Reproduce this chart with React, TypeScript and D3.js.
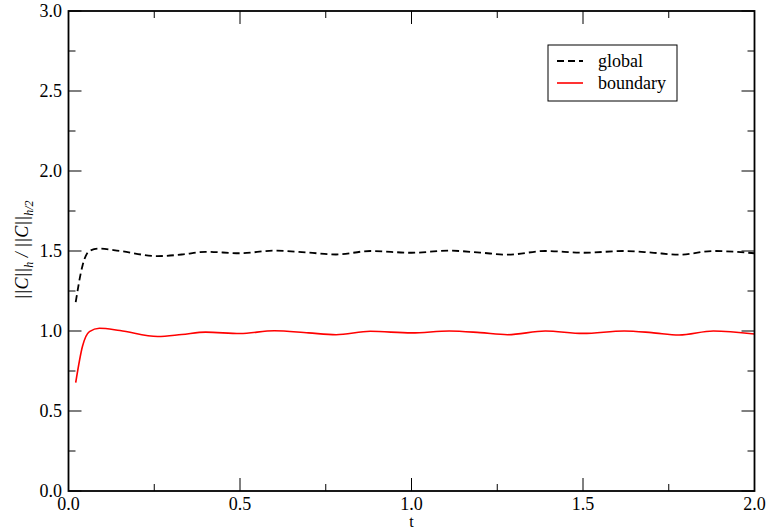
import React from "react";
import * as d3 from "d3";

const tValues = [0.021, 0.041, 0.061, 0.09, 0.15, 0.26, 0.33, 0.40, 0.50, 0.60, 0.70, 0.78, 0.88, 1.0, 1.11, 1.20, 1.28, 1.39, 1.50, 1.62, 1.70, 1.78, 1.88, 2.0];
const globalValues = [1.18, 1.41, 1.50, 1.515, 1.50, 1.468, 1.478, 1.495, 1.486, 1.502, 1.49, 1.478, 1.50, 1.489, 1.502, 1.49, 1.477, 1.50, 1.489, 1.50, 1.49, 1.477, 1.50, 1.486];
const boundaryValues = [0.677, 0.906, 0.996, 1.017, 1.003, 0.966, 0.978, 0.993, 0.984, 1.002, 0.988, 0.977, 0.998, 0.988, 1.0, 0.99, 0.977, 1.0, 0.985, 1.0, 0.99, 0.975, 1.0, 0.981];
const xMajorTicks = [0, 0.5, 1.0, 1.5, 2.0];
const xMinorTicks = [0.25, 0.75, 1.25, 1.75];
const yMajorTicks = [0, 0.5, 1.0, 1.5, 2.0, 2.5, 3.0];
const yMinorTicks = [0.25, 0.75, 1.25, 1.75, 2.25, 2.75];
const seriesNames = ["global", "boundary"];

const W = 767, H = 531;
const L = 68.5, R = 754.5, T = 11, B = 491;
const FONT = "'Liberation Serif', 'Times New Roman', serif";

export default function App() {
  const x = d3.scaleLinear().domain([0, 2]).range([L, R]);
  const y = d3.scaleLinear().domain([0, 3]).range([B, T]);
  const line = d3.line<number>().x((_, i) => x(tValues[i])).y((v) => y(v)).curve(d3.curveMonotoneX);
  const fmt = d3.format(".1f");
  const major = 13, minor = 7;

  return (
    <svg width={W} height={H} style={{ position: "absolute", left: 0, top: 0, background: "#fff" }} fontFamily={FONT}>
      <rect x={0} y={0} width={W} height={H} fill="#fff" />
      <path d={line(globalValues) || ""} fill="none" stroke="#000" strokeWidth={1.8} strokeDasharray="7,4" />
      <path d={line(boundaryValues) || ""} fill="none" stroke="#ff0000" strokeWidth={1.6} />
      {xMajorTicks.map((t) => (
        <g key={"xM" + t}>
          <line x1={x(t)} x2={x(t)} y1={B} y2={B - major} stroke="#000" strokeWidth={1} />
          <line x1={x(t)} x2={x(t)} y1={T} y2={T + major} stroke="#000" strokeWidth={1} />
          <text x={x(t)} y={510} textAnchor="middle" fontSize={18}>{fmt(t)}</text>
        </g>
      ))}
      {xMinorTicks.map((t) => (
        <g key={"xm" + t}>
          <line x1={x(t)} x2={x(t)} y1={B} y2={B - minor} stroke="#000" strokeWidth={1} />
          <line x1={x(t)} x2={x(t)} y1={T} y2={T + minor} stroke="#000" strokeWidth={1} />
        </g>
      ))}
      {yMajorTicks.map((v) => (
        <g key={"yM" + v}>
          <line x1={L} x2={L + major} y1={y(v)} y2={y(v)} stroke="#000" strokeWidth={1} />
          <line x1={R} x2={R - major} y1={y(v)} y2={y(v)} stroke="#000" strokeWidth={1} />
          <text x={62} y={y(v) + 6} textAnchor="end" fontSize={18}>{fmt(v)}</text>
        </g>
      ))}
      {yMinorTicks.map((v) => (
        <g key={"ym" + v}>
          <line x1={L} x2={L + minor} y1={y(v)} y2={y(v)} stroke="#000" strokeWidth={1} />
          <line x1={R} x2={R - minor} y1={y(v)} y2={y(v)} stroke="#000" strokeWidth={1} />
        </g>
      ))}
      <rect x={L} y={T} width={R - L} height={B - T} fill="none" stroke="#000" strokeWidth={1.8} />
      <text x={(L + R) / 2} y={527} textAnchor="middle" fontSize={16}>t</text>
      <text transform={`translate(28,250) rotate(-90)`} textAnchor="middle" fontSize={18} fontStyle="italic">
        <tspan>||C||</tspan>
        <tspan fontSize={12} dy={5}>h</tspan>
        <tspan dy={-5}> / ||C||</tspan>
        <tspan fontSize={12} dy={5}>h/2</tspan>
      </text>
      <rect x={548} y={45} width={129} height={56} fill="#fff" stroke="#000" strokeWidth={1} />
      <line x1={557} x2={583} y1={61} y2={61} stroke="#000" strokeWidth={1.8} strokeDasharray="7,4" />
      <line x1={557} x2={583} y1={83} y2={83} stroke="#ff0000" strokeWidth={1.6} />
      <text x={598} y={67} fontSize={18}>{seriesNames[0]}</text>
      <text x={598} y={89} fontSize={18}>{seriesNames[1]}</text>
    </svg>
  );
}
